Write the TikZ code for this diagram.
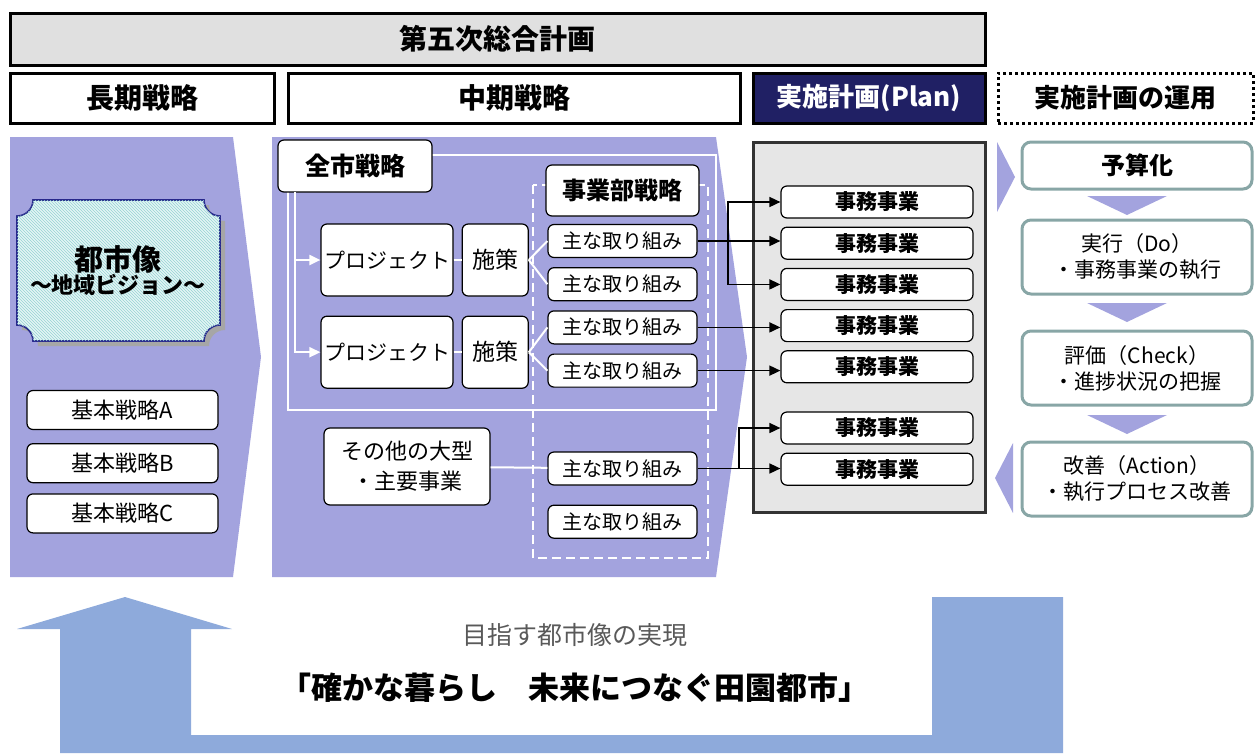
\documentclass[tikz,border=0pt]{standalone}
\usepackage{fontspec}
\setmainfont{Noto Sans CJK JP}
\usetikzlibrary{arrows.meta,patterns,positioning}
\definecolor{lav}{RGB}{163,163,222}
\definecolor{navy}{RGB}{32,32,100}
\definecolor{cycline}{RGB}{136,166,166}
\definecolor{ublue}{RGB}{142,170,219}
\definecolor{hgray}{RGB}{224,224,224}
\definecolor{jgray}{RGB}{230,230,230}
\definecolor{pcyan}{RGB}{228,245,245}
\definecolor{hcyan}{RGB}{150,212,212}
\definecolor{pline}{RGB}{40,40,140}
\newcommand\fsz[2]{\fontsize{#1}{#2}\selectfont}

\begin{document}
\begin{tikzpicture}[x=1pt, y=-1pt, node distance=9pt,
	hdr/.style = {draw, line width=3pt, minimum height=50, font=\bfseries\fsz{28}{32}},
	box/.style = {draw, fill=white, rounded corners=6pt, line width=1.2pt, inner sep=1pt},
	kihon/.style = {box, minimum width=191, minimum height=39, font=\fsz{22}{24}},
	tori/.style = {box, minimum width=149, minimum height=33, font=\fsz{20}{22}},
	jimu/.style = {box, minimum width=192, minimum height=32, font=\bfseries\fsz{21}{23}},
	cyc/.style = {draw=cycline, fill=white, rounded corners=9pt, line width=3pt, minimum width=230, align=center, font=\fsz{21}{26}},
	wline/.style = {white, line width=2pt},
	>={Triangle[length=11pt, width=10pt]}]
	\useasboundingbox (0,0) rectangle (1256,753);
	\fill[lav] (10,137) -- (233,137) -- (261,357) -- (233,577) -- (10,577) -- cycle;
	\fill[lav] (272,137) -- (716,137) -- (747,357) -- (716,577) -- (272,577) -- cycle;
	\fill[lav] (997,142) -- (1015,177) -- (997,212) -- cycle;
	\fill[lav] (1013,443) -- (995,478) -- (1013,513) -- cycle;
	\foreach \y in {196,303,415}
		\fill[lav] (1087,\y) -- (1167,\y) -- (1127,\y+19) -- cycle;
	\fill[ublue] (17,629) -- (125,597) -- (232,629) -- (191,629) -- (191,735) -- (932,735) -- (932,597) -- (1063,597) -- (1063,753) -- (60,753) -- (60,629) -- cycle;

	\node[hdr, fill=hgray, minimum width=975, minimum height=52] (keikaku) at (497.5,39) {第五次総合計画};
	\node[hdr, minimum width=264] (choki) at (142,98) {長期戦略};
	\node[hdr, minimum width=452] (chuki) at (514,98) {中期戦略};
	\node[hdr, fill=navy, text=white, minimum width=232, font=\bfseries\fsz{26}{30}] (plan) at (869,98) {実施計画(Plan)};
	\node[hdr, dash pattern=on 3pt off 3pt, minimum width=255, font=\bfseries\fsz{26}{30}] (unyo) at (1125.5,98) {実施計画の運用};

	\fill[gray!70, shift={(5,5)}] (33,200) -- (204,200) arc[start angle=180, end angle=90, radius=16] -- (220,325) arc[start angle=270, end angle=180, radius=16] -- (33,341) arc[start angle=0, end angle=-90, radius=16] -- (17,216) arc[start angle=90, end angle=0, radius=16] -- cycle;
	\draw[pline, line width=1.6pt, fill=pcyan, postaction={pattern=north west lines, pattern color=hcyan}] (33,200) -- (204,200) arc[start angle=180, end angle=90, radius=16] -- (220,325) arc[start angle=270, end angle=180, radius=16] -- (33,341) arc[start angle=0, end angle=-90, radius=16] -- (17,216) arc[start angle=90, end angle=0, radius=16] -- cycle;
	\node[align=center, font=\bfseries] (toshizo) at (118,271) {{\fsz{29}{38}都市像}\\{\fsz{22}{28}～地域ビジョン～}};
	\node[kihon] (kA) at (122.5,410) {基本戦略A};
	\node[kihon] (kB) [below=13pt of kA] {基本戦略B};
	\node[kihon] (kC) [below=10pt of kB] {基本戦略C};

	\draw[wline, line width=2.5pt] (288,155) rectangle (716,410);
	\draw[wline, line width=2.5pt, dash pattern=on 9pt off 5pt] (533,185) rectangle (708,558);
	\node[box, minimum width=154, minimum height=52, font=\bfseries\fsz{25}{28}] (zenshi) at (355,166) {全市戦略};
	\node[box, minimum width=132, minimum height=72, font=\fsz{21}{24}] (pj1) at (387,260) {プロジェクト};
	\node[box, minimum width=132, minimum height=72, font=\fsz{21}{24}] (pj2) [below=19pt of pj1] {プロジェクト};
	\node[box, minimum width=66, minimum height=72, font=\fsz{23}{26}] (sak1) [right=8pt of pj1] {施策};
	\node[box, minimum width=66, minimum height=72, font=\fsz{23}{26}] (sak2) [right=8pt of pj2] {施策};
	\node[box, minimum width=166, minimum height=77, align=center, font=\fsz{22}{30}] (sonota) at (407,466.5) {その他の大型\\・主要事業};
	\node[box, minimum width=153, minimum height=51, font=\bfseries\fsz{24}{28}] (jigyobu) at (622.5,190.5) {事業部戦略};
	\node[tori] (tori1) at (622.5,241) {主な取り組み};
	\node[tori] (tori2) [below=of tori1] {主な取り組み};
	\node[tori] (tori3) [below=of tori2] {主な取り組み};
	\node[tori] (tori4) [below=of tori3] {主な取り組み};
	\node[tori] (tori5) at (622.5,468.5) {主な取り組み};
	\node[tori] (tori6) [below=19pt of tori5] {主な取り組み};

	\coordinate (trunk) at (295,192);
	\draw[wline, ->] (trunk) |- (pj1.west);
	\draw[wline, ->] (trunk) |- (pj2.west);
	\draw[wline] (pj1) -- (sak1);
	\draw[wline] (pj2) -- (sak2);
	\draw[wline] (sak1.east) -- (tori1.west);
	\draw[wline] (sak1.east) -- (tori2.west);
	\draw[wline] (sak2.east) -- (tori3.west);
	\draw[wline] (sak2.east) -- (tori4.west);
	\draw[wline] (sonota) -- (tori5);

	\node[draw=black!80, fill=jgray, line width=3pt, minimum width=232, minimum height=370] (jimubox) at (869,327) {};
	\node[jimu] (jimu1) at (877,202) {事務事業};
	\node[jimu] (jimu2) [below=8pt of jimu1] {事務事業};
	\node[jimu] (jimu3) [below=8pt of jimu2] {事務事業};
	\node[jimu] (jimu4) [below=8pt of jimu3] {事務事業};
	\node[jimu] (jimu5) [below=8pt of jimu4] {事務事業};
	\node[jimu] (jimu6) [below=28pt of jimu5] {事務事業};
	\node[jimu] (jimu7) [below=8pt of jimu6] {事務事業};

	\coordinate (j1) at (728,241);
	\coordinate (j2) at (739,468.5);
	\draw[line width=1.6pt] (tori1.east) -- (j1);
	\draw[line width=1.6pt, ->] (j1) |- (jimu1.west);
	\draw[line width=1.6pt, ->] (j1) -- (j1 -| jimu2.west);
	\draw[line width=1.6pt, ->] (j1) |- (jimu3.west);
	\draw[line width=1.6pt, ->] (tori3.east) -- (tori3.east -| jimu4.west);
	\draw[line width=1.6pt, ->] (tori4.east) -- (tori4.east -| jimu5.west);
	\draw[line width=1.6pt] (tori5.east) -- (j2);
	\draw[line width=1.6pt, ->] (j2) |- (jimu6.west);
	\draw[line width=1.6pt, ->] (j2) -- (j2 -| jimu7.west);

	\node[cyc, minimum height=47, font=\bfseries\fsz{24}{28}] (yosan) at (1137,165.5) {予算化};
	\node[cyc, minimum height=74] (jikko) [below=28pt of yosan] {実行（Do）\\・事務事業の執行};
	\node[cyc, minimum height=74] (hyoka) [below=34pt of jikko] {評価（Check）\\・進捗状況の把握};
	\node[cyc, minimum height=74] (kaizen) [below=34pt of hyoka] {改善（Action）\\・執行プロセス改善};

	\node[text=black!65, font=\fsz{25}{28}] (mezasu) at (575,635) {目指す都市像の実現};
	\node[font=\bfseries\fsz{31}{36}] (denen) at (575,688) {「確かな暮らし　未来につなぐ田園都市」};
\end{tikzpicture}
\end{document}
